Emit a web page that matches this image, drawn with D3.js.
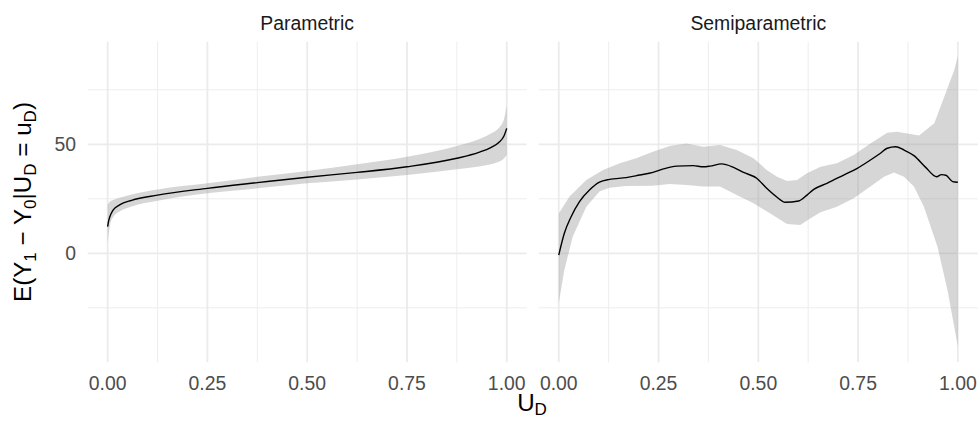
<!DOCTYPE html>
<html>
<head>
<meta charset="utf-8">
<script src="https://cdn.jsdelivr.net/npm/d3@7"></script>
<style>
  html, body { margin: 0; padding: 0; background: #ffffff; }
  svg { display: block; font-family: "Liberation Sans", Arial, Helvetica, sans-serif; }
</style>
</head>
<body>
<svg id="chart" width="979" height="421"></svg>
<script>
// ---------- DATA ----------
const panelNames = ["Parametric", "Semiparametric"];
const xTicks = [0, 0.25, 0.5, 0.75, 1];
const xTickLabels = ["0.00", "0.25", "0.50", "0.75", "1.00"];
const xMinor = [0.125, 0.375, 0.625, 0.875];
const yTicks = [0, 50];
const yTickLabels = ["0", "50"];
const yMinor = [-25, 25, 75];

// Parametric estimate and band
const pU     = [0, 0.002, 0.005, 0.014, 0.03, 0.06, 0.125, 0.25, 0.375, 0.5, 0.625, 0.75, 0.875, 0.93, 0.96, 0.98, 0.993, 1];
const pEst   = [12.2, 14.5, 16.5, 19.9, 22.2, 24.3, 26.7, 29.8, 32.4, 34.9, 37.1, 39.7, 43.6, 46.3, 48.5, 50.8, 53.8, 57.3];
const pUpper = [22.2, 22.8, 23.5, 24.4, 25.5, 27.0, 29.3, 32.1, 35.1, 37.8, 40.8, 44.3, 49.2, 52.3, 55.0, 57.5, 61.5, 68.0];
const pLower = [4.6, 8.0, 12.0, 16.8, 19.2, 21.5, 24.1, 27.5, 29.8, 32.1, 33.9, 35.9, 38.5, 39.8, 40.9, 42.0, 43.5, 45.1];

// Semiparametric estimate
const sU   = [0, 0.014, 0.031, 0.052, 0.077, 0.102, 0.127, 0.169, 0.203, 0.236, 0.262, 0.295, 0.337, 0.362, 0.379, 0.408, 0.438, 0.463, 0.496, 0.521, 0.547, 0.567, 0.601, 0.622, 0.639, 0.672, 0.714, 0.748, 0.781, 0.806, 0.823, 0.844, 0.865, 0.890, 0.920, 0.947, 0.959, 0.970, 0.987, 1];
const sEst = [-0.8, 9.2, 16.8, 23.7, 29.0, 32.6, 33.9, 34.7, 35.9, 37.1, 38.7, 40.0, 40.2, 39.7, 40.0, 41.0, 39.4, 37.1, 34.4, 29.8, 25.7, 23.4, 24.0, 26.7, 29.3, 32.1, 35.9, 39.0, 42.8, 45.9, 48.2, 48.9, 47.4, 44.8, 39.3, 35.1, 36.1, 35.8, 32.9, 32.6];
// Semiparametric band (upper and lower boundaries)
const sUpU   = [0, 0.027, 0.069, 0.111, 0.153, 0.194, 0.236, 0.278, 0.320, 0.362, 0.404, 0.446, 0.488, 0.521, 0.547, 0.572, 0.597, 0.622, 0.656, 0.697, 0.739, 0.781, 0.823, 0.848, 0.873, 0.903, 0.920, 0.941, 0.966, 0.991, 1];
const sUpper = [18.3, 26.0, 33.6, 38.2, 41.3, 43.6, 46.6, 49.2, 50.4, 48.9, 49.7, 47.4, 43.6, 38.2, 35.1, 33.2, 33.6, 36.7, 39.7, 41.3, 45.1, 50.4, 55.3, 55.8, 55.0, 54.0, 56.6, 59.6, 71.8, 84.1, 90.5];
const sLoU   = [0, 0.014, 0.035, 0.069, 0.102, 0.127, 0.169, 0.236, 0.278, 0.320, 0.362, 0.404, 0.446, 0.488, 0.530, 0.572, 0.605, 0.630, 0.656, 0.697, 0.739, 0.781, 0.815, 0.840, 0.865, 0.890, 0.915, 0.949, 0.974, 1];
const sLower = [-22.9, -7.7, 7.6, 21.4, 28.3, 30.1, 30.9, 31.0, 31.8, 31.3, 30.6, 30.6, 26.7, 22.9, 18.3, 13.4, 13.0, 16.0, 18.8, 21.4, 25.2, 30.6, 35.1, 37.1, 35.1, 30.6, 21.4, 3.0, -16.8, -42.8];

// ---------- LAYOUT ----------
const svg = d3.select("#chart");
const panelTop = 41.7, panelBottom = 362.3;
const panelX = [[87.7, 526.7], [538.8, 977.8]];
const xDomain = [-0.05, 1.05];
const yDomain = [-50, 97.06];

const y = d3.scaleLinear().domain(yDomain).range([panelBottom, panelTop]);

const tickColor = "#4d4d4d";
const gridColor = "#ebebeb";

panelNames.forEach((name, pi) => {
  const x = d3.scaleLinear().domain(xDomain).range(panelX[pi]);
  const g = svg.append("g");
  const [x0, x1] = panelX[pi];

  // minor grid
  g.selectAll(".ymin").data(yMinor).join("line")
    .attr("x1", x0).attr("x2", x1).attr("y1", d => y(d)).attr("y2", d => y(d))
    .attr("stroke", gridColor).attr("stroke-width", 0.9);
  g.selectAll(".xmin").data(xMinor).join("line")
    .attr("x1", d => x(d)).attr("x2", d => x(d)).attr("y1", panelTop).attr("y2", panelBottom)
    .attr("stroke", gridColor).attr("stroke-width", 0.9);
  // major grid
  g.selectAll(".ymaj").data(yTicks).join("line")
    .attr("x1", x0).attr("x2", x1).attr("y1", d => y(d)).attr("y2", d => y(d))
    .attr("stroke", gridColor).attr("stroke-width", 1.8);
  g.selectAll(".xmaj").data(xTicks).join("line")
    .attr("x1", d => x(d)).attr("x2", d => x(d)).attr("y1", panelTop).attr("y2", panelBottom)
    .attr("stroke", gridColor).attr("stroke-width", 1.8);

  // band + estimate line
  if (pi === 0) {
    const area = d3.area().x((d, i) => x(pU[i])).y0((d, i) => y(pLower[i])).y1((d, i) => y(pUpper[i])).curve(d3.curveMonotoneX);
    g.append("path").attr("d", area(pU)).attr("fill", "#999999").attr("fill-opacity", 0.4);
    const line = d3.line().x((d, i) => x(pU[i])).y((d, i) => y(pEst[i])).curve(d3.curveMonotoneX);
    g.append("path").attr("d", line(pU)).attr("fill", "none").attr("stroke", "#000").attr("stroke-width", 1.4);
  } else {
    const pts = sUpU.map((u, i) => [u, sUpper[i]])
      .concat(sLoU.map((u, i) => [u, sLower[i]]).reverse());
    const poly = d3.line().x(d => x(d[0])).y(d => y(d[1]));
    g.append("path").attr("d", poly(pts) + "Z").attr("fill", "#999999").attr("fill-opacity", 0.4);
    const line = d3.line().x((d, i) => x(sU[i])).y((d, i) => y(sEst[i])).curve(d3.curveMonotoneX);
    g.append("path").attr("d", line(sU)).attr("fill", "none").attr("stroke", "#000").attr("stroke-width", 1.4);
  }

  // x tick labels
  g.selectAll(".xt").data(xTicks).join("text")
    .attr("x", d => x(d)).attr("y", 390)
    .attr("text-anchor", "middle").attr("fill", tickColor)
    .style("font-size", "19.4px")
    .text((d, i) => xTickLabels[i]);

  // strip label
  g.append("text").attr("x", (x0 + x1) / 2).attr("y", 30)
    .attr("text-anchor", "middle").attr("fill", "#1a1a1a")
    .style("font-size", "19.4px").text(name);
});

// y tick labels
svg.selectAll(".yt").data(yTicks).join("text")
  .attr("x", 76).attr("y", d => y(d)).attr("dy", "0.36em")
  .attr("text-anchor", "end").attr("fill", tickColor)
  .style("font-size", "19.4px")
  .text((d, i) => yTickLabels[i]);

// x axis title
const xt = svg.append("text").attr("x", 532).attr("y", 411)
  .attr("text-anchor", "middle").attr("fill", "#000").style("font-size", "24.2px");
xt.append("tspan").text("U");
xt.append("tspan").attr("dy", 4).style("font-size", "17px").text("D");

// y axis title
const yt = svg.append("text")
  .attr("transform", `translate(31, ${(panelTop + panelBottom) / 2}) rotate(-90)`)
  .attr("text-anchor", "middle").attr("fill", "#000").style("font-size", "24.2px");
const parts = [
  ["E(Y", 0, null], ["1", 5, "sub"], [" \u2212 Y", -5, null], ["0", 5, "sub"],
  ["|U", -5, null], ["D", 5, "sub"], [" = u", -5, null], ["D", 5, "sub"], [")", -5, null]
];
parts.forEach(([t, dy, kind]) => {
  const ts = yt.append("tspan").text(t);
  if (dy) ts.attr("dy", dy);
  if (kind === "sub") ts.style("font-size", "17px");
});
</script>
</body>
</html>
